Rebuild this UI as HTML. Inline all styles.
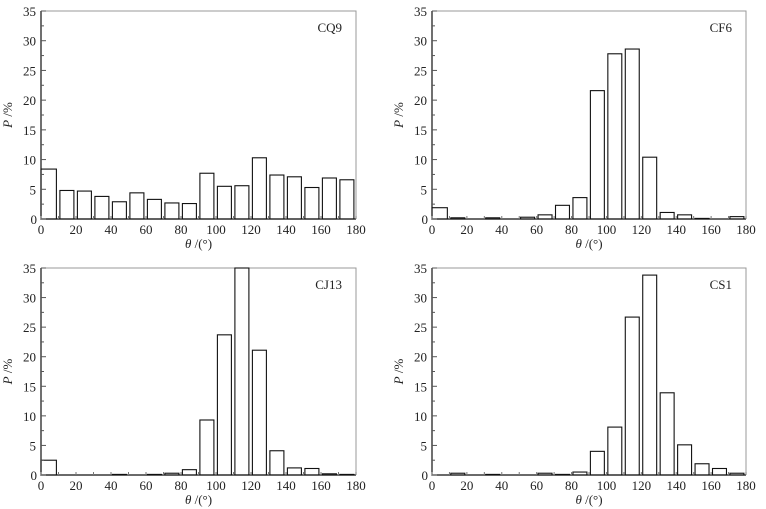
<!DOCTYPE html>
<html><head><meta charset="utf-8"><style>
html,body{margin:0;padding:0;background:#fff;}
svg{display:block;}
svg text{font-family:"Liberation Serif","Times New Roman",serif;}
</style></head><body>
<svg id="c" width="766" height="509" viewBox="0 0 766 509"></svg>
<script>
const categories=[0,10,20,30,40,50,60,70,80,90,100,110,120,130,140,150,160,170];
const yTicks=[0,5,10,15,20,25,30,35];
const xTicks=[0,20,40,60,80,100,120,140,160,180];
const seriesCQ9=[8.4,4.8,4.7,3.8,2.9,4.4,3.3,2.7,2.6,7.7,5.5,5.6,10.3,7.4,7.1,5.3,6.9,6.6];
const seriesCF6=[1.9,0.2,0,0.2,0,0.3,0.7,2.3,3.6,21.6,27.8,28.6,10.4,1.1,0.7,0.1,0,0.4];
const seriesCJ13=[2.5,0,0,0,0.1,0,0.1,0.3,0.9,9.3,23.7,38,21.1,4.1,1.2,1.1,0.2,0.1];
const seriesCS1=[0,0.3,0,0.1,0,0,0.3,0.1,0.5,4.0,8.1,26.7,33.8,13.9,5.1,1.9,1.1,0.3];
const panelNames=["CQ9","CF6","CJ13","CS1"];
const panelSeries=[seriesCQ9,seriesCF6,seriesCJ13,seriesCS1];
const NS="http://www.w3.org/2000/svg";
const svg=document.getElementById('c');
const FF='"Liberation Serif","Times New Roman",serif';
function mk(tag,attrs,parent,text){const e=document.createElementNS(NS,tag);for(const k in attrs)e.setAttribute(k,attrs[k]);if(tag==='text')e.setAttribute('font-family',FF);if(text!==undefined)e.textContent=text;parent.appendChild(e);return e;}
const boxes=[[41,356,11,219],[432,746,11,219],[41,356,268,475],[432,746,268,475]];
boxes.forEach((b,pi)=>{
  const [x0,x1,yt,yb]=b;
  const g=mk('g',{},svg);
  
  
  const xs=v=>x0+(v/180)*(x1-x0);
  const ys=v=>yb-(Math.min(v,35)/35)*(yb-yt);
  const fr=mk('path',{d:`M${x0},${yt}H${x1}V${yb}`,fill:'none',stroke:'#999','stroke-width':1},g);
  
  
  panelSeries[pi].forEach((v,i)=>{
    if(v<=0)return;
    const c=categories[i];
    const bx=xs(c+(i===0?0:0.8)), bw=xs(c+8.8)-bx;
    const r=mk('rect',{x:bx,y:ys(v),width:bw,height:yb-ys(v),fill:'#fff',stroke:'#111','stroke-width':1.1},g);
    
    
  });
  const ax=mk('path',{d:`M${x0},${yt}V${yb}H${x1}`,fill:'none',stroke:'#111','stroke-width':1.2},g);
  
  
  for(let v=0;v<=35;v+=2.5){
    const y=ys(v);
    const tl=mk('line',{x1:x0,x2:x0+(v%5===0?5:3),y1:y,y2:y,stroke:'#555','stroke-width':1},g);
    
    
  }
  yTicks.forEach(v=>{
    const t=mk('text',{x:v===0?x0-4:x0-5,y:v===0?yb+5:ys(v)+5,'text-anchor':'end','font-size':13,fill:'#222'},g,String(v));
    
    
  });
  categories.concat([180]).forEach(v=>{
    const x=xs(v);
    const tl=mk('line',{x1:x,x2:x,y1:yb,y2:yb-3,stroke:'#777','stroke-width':1},g);
    
    
  });
  xTicks.forEach(v=>{
    const t=mk('text',{x:xs(v),y:yb+15,'text-anchor':'middle','font-size':13,fill:'#222'},g,String(v));
    
    
  });
  const xl=mk('text',{x:(x0+x1)/2,y:yb+29,'text-anchor':'middle','font-size':13,fill:'#222'},g);
  xl.innerHTML='<tspan font-style="italic">θ</tspan> /(°)';
  
  
  const yc=(yt+yb)/2;
  const yl=mk('text',{x:0,y:0,'text-anchor':'middle','font-size':13,fill:'#222',transform:`translate(${x0-29},${yc}) rotate(-90)`},g);
  yl.innerHTML='<tspan font-style="italic">P</tspan> /%';
  
  
  const nm=mk('text',{x:x1-14,y:yt+21,'text-anchor':'end','font-size':13,fill:'#222'},g,panelNames[pi]);
  
  
});
</script>
</body></html>
